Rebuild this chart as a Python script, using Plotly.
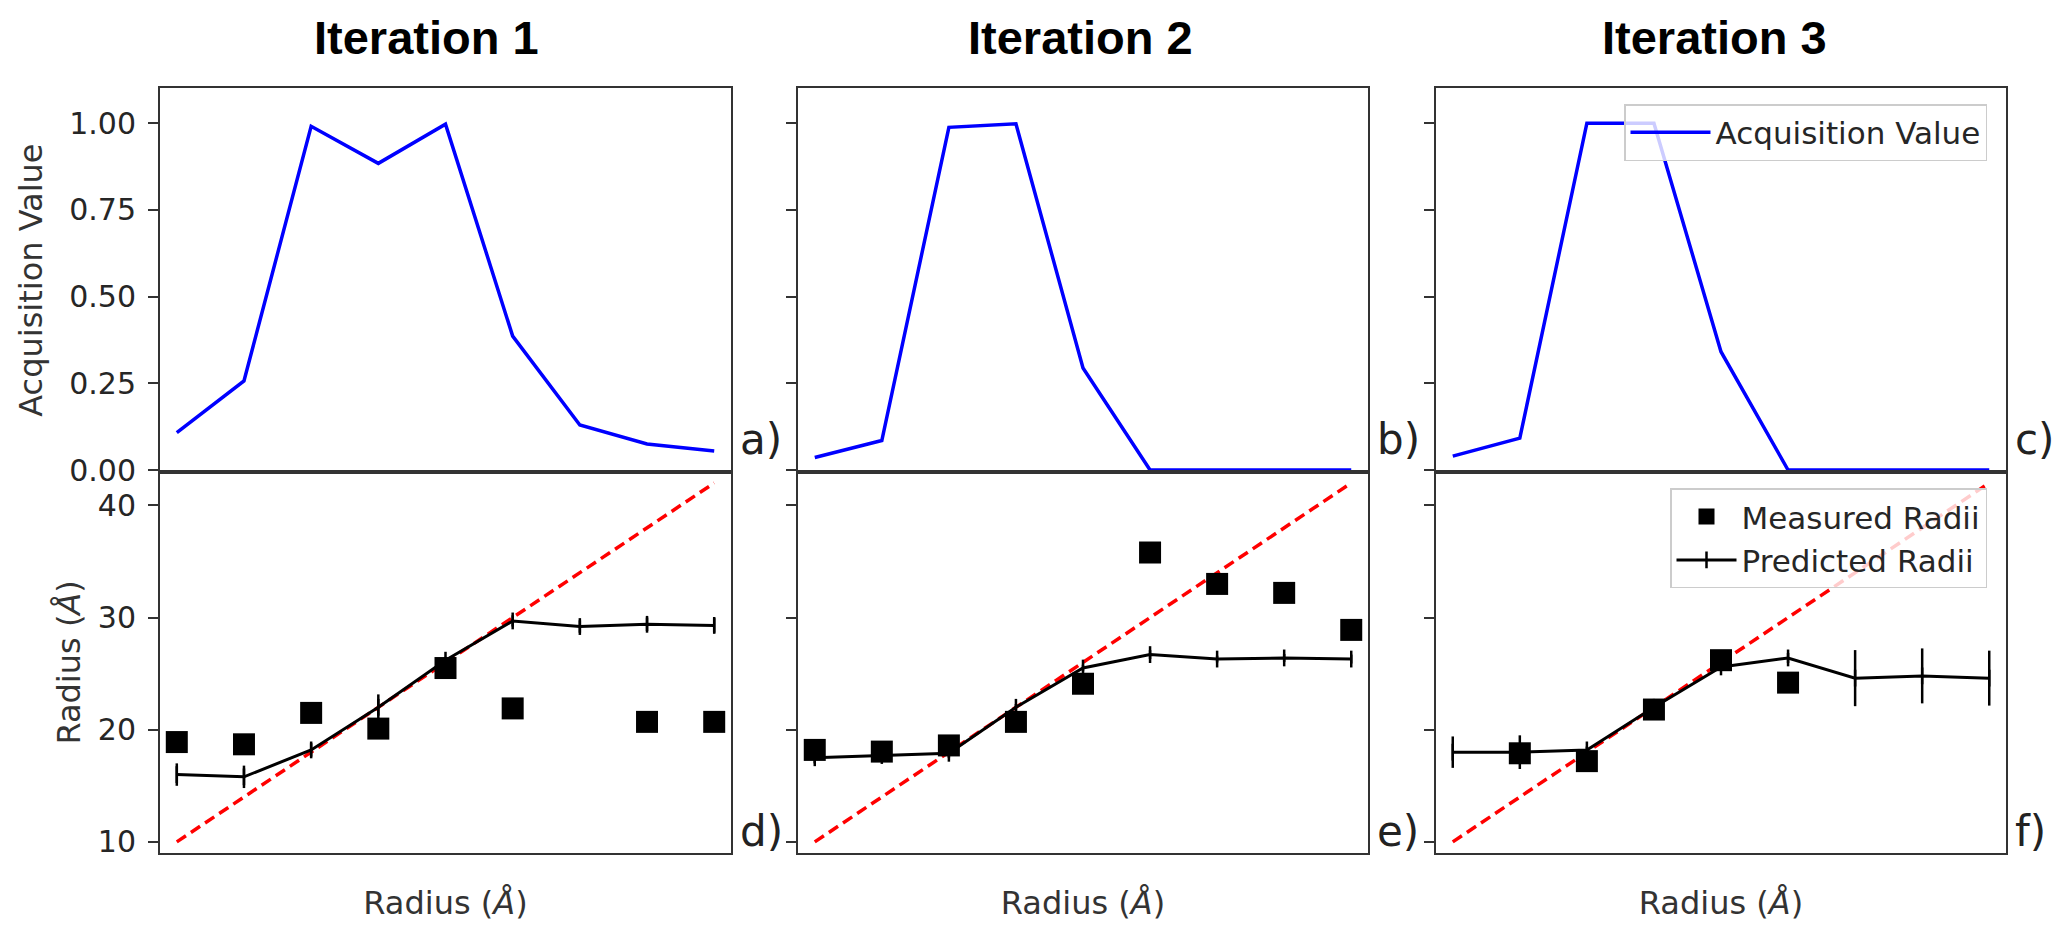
import plotly.graph_objects as go

# ---------------- data ----------------
radii = [10, 14, 18, 22, 26, 30, 34, 38, 42]
ideal = [10, 14, 18, 22, 26, 30, 34, 38, 42]

acq1 = [0.108, 0.257, 0.991, 0.884, 0.997, 0.386, 0.130, 0.075, 0.055]
acq2 = [0.036, 0.085, 0.988, 0.998, 0.294, 0.0, 0.0, 0.0, 0.0]
acq3 = [0.040, 0.092, 1.0, 1.0, 0.341, 0.0, 0.0, 0.0, 0.0]

meas1 = [18.9, 18.7, 21.5, 20.1, 25.5, 21.9, None, 20.7, 20.7]
meas2 = [18.2, 18.05, 18.6, 20.7, 24.1, 35.8, 33.0, 32.2, 28.9]
meas3 = [None, 17.9, 17.2, 21.8, 26.2, 24.2, None, None, None]

pred1 = [16.0, 15.8, 18.2, 22.0, 26.2, 29.7, 29.2, 29.4, 29.3]
err1 = [1.0, 1.0, 0.6, 1.15, 0.3, 0.5, 0.55, 0.6, 0.65]
pred2 = [17.5, 17.7, 17.9, 22.0, 25.5, 26.7, 26.3, 26.4, 26.3]
err2 = [0.5, 0.5, 0.4, 0.3, 0.3, 0.4, 0.3, 0.35, 0.4]
pred3 = [18.0, 18.0, 18.2, 22.0, 25.6, 26.4, 24.6, 24.8, 24.6]
err3 = [1.4, 1.5, 0.3, 0.3, 0.3, 0.45, 2.5, 2.45, 2.45]

titles = ["Iteration 1", "Iteration 2", "Iteration 3"]
top_labels = ["a)", "b)", "c)"]
bottom_labels = ["d)", "e)", "f)"]
acq_tickvals = [0.0, 0.25, 0.5, 0.75, 1.0]
rad_tickvals = [10, 20, 30, 40]

# ---------------- layout geometry (pixels) ----------------
W, H = 2062, 932
cols_px = [(160, 731), (798, 1368), (1436, 2006)]
top_px = (90, 480)
bot_px = (480, 868)
title_x = [426, 1080, 1714]

def px(x):
    return x / W

def py(y):
    return 1 - y / H

TXT = "#262626"
LINE = "#333333"
FONT = "DejaVu Sans"

fig = go.Figure()
acqs = [acq1, acq2, acq3]
meas = [meas1, meas2, meas3]
preds = [pred1, pred2, pred3]
errs = [err1, err2, err3]

for c in range(3):
    it = c + 1
    ib = c + 4
    # top: acquisition
    fig.add_trace(go.Scatter(
        x=radii, y=acqs[c], mode="lines",
        line=dict(color="#0000ff", width=3.5),
        name="Acquisition Value", showlegend=(c == 2), legend="legend",
        xaxis=f"x{it}", yaxis=f"y{it}"))
    # bottom: ideal dashed line
    fig.add_trace(go.Scatter(
        x=radii, y=ideal, mode="lines",
        line=dict(color="#ff0000", width=3.5, dash="11px,6px"),
        showlegend=False, xaxis=f"x{ib}", yaxis=f"y{ib}"))
    # predicted
    fig.add_trace(go.Scatter(
        x=radii, y=preds[c], mode="lines+markers",
        line=dict(color="black", width=3),
        marker=dict(symbol="line-ns-open", size=12,
                    line=dict(color="black", width=2.5), color="black"),
        error_y=dict(type="data", array=errs[c], color="black",
                     thickness=2.5, width=0),
        name="Predicted Radii", showlegend=(c == 2), legend="legend2",
        legendrank=2, xaxis=f"x{ib}", yaxis=f"y{ib}"))
    # measured
    fig.add_trace(go.Scatter(
        x=radii, y=meas[c], mode="markers",
        marker=dict(symbol="square", size=22, color="black"),
        name="Measured Radii", showlegend=(c == 2), legend="legend2",
        legendrank=1, xaxis=f"x{ib}", yaxis=f"y{ib}"))

layout = dict(
    width=W, height=H,
    margin=dict(l=0, r=0, t=0, b=0),
    paper_bgcolor="white", plot_bgcolor="white",
    font=dict(family=FONT, size=30, color=TXT),
    showlegend=True,
    legend=dict(x=px(1987), xanchor="right", y=py(106), yanchor="top",
                bgcolor="rgba(255,255,255,0.8)", bordercolor="#cccccc",
                borderwidth=1.5, font=dict(family=FONT, size=31, color=TXT),
                itemwidth=80),
    legend2=dict(x=px(1987), xanchor="right", y=py(497), yanchor="top",
                 bgcolor="rgba(255,255,255,0.8)", bordercolor="#cccccc",
                 borderwidth=1.5, font=dict(family=FONT, size=31, color=TXT),
                 itemwidth=60, traceorder="normal"),
)

axis_common = dict(showline=True, linecolor=LINE, linewidth=2, mirror=True,
                   showgrid=False, zeroline=False)

for c in range(3):
    it = c + 1
    ib = c + 4
    x0, x1 = cols_px[c]
    dom_x = [px(x0), px(x1)]
    layout[f"xaxis{it}"] = dict(domain=dom_x, range=[9, 43], anchor=f"y{it}",
                                showticklabels=False, ticks="", **axis_common)
    layout[f"xaxis{ib}"] = dict(domain=dom_x, range=[9, 43], anchor=f"y{ib}",
                                showticklabels=False, ticks="",
                                title=dict(text="Radius (<i>Å</i>)",
                                           font=dict(family=FONT, size=32, color="#333"),
                                           standoff=38),
                                **axis_common)
    layout[f"yaxis{it}"] = dict(domain=[py(top_px[1]), py(top_px[0])], range=[-0.005, 1.1],
                                anchor=f"x{it}", tickvals=acq_tickvals,
                                tickformat=".2f", ticks="outside", ticklen=10,
                                tickwidth=2, tickcolor=LINE,
                                showticklabels=(c == 0), ticklabelstandoff=6,
                                **axis_common)
    layout[f"yaxis{ib}"] = dict(domain=[py(bot_px[1]), py(bot_px[0])], range=[9, 43],
                                anchor=f"x{ib}", tickvals=rad_tickvals,
                                ticks="outside", ticklen=10,
                                tickwidth=2, tickcolor=LINE,
                                showticklabels=(c == 0), ticklabelstandoff=6,
                                **axis_common)

layout["yaxis1"]["title"] = dict(text="Acquisition Value",
                                 font=dict(family=FONT, size=32, color="#333"),
                                 standoff=17)
layout["yaxis4"]["title"] = dict(text="Radius (<i>Å</i>)",
                                 font=dict(family=FONT, size=32, color="#333"),
                                 standoff=8)

annotations = []
for c in range(3):
    annotations.append(dict(text=f"<b>{titles[c]}</b>", xref="paper", yref="paper",
                            x=px(title_x[c]), y=py(38), xanchor="center", yanchor="middle",
                            showarrow=False,
                            font=dict(family="Liberation Sans", size=47, color="black")))
    rx = cols_px[c][1] + 7
    annotations.append(dict(text=top_labels[c], xref="paper", yref="paper",
                            x=px(rx), y=py(447), xanchor="left", yanchor="middle",
                            showarrow=False,
                            font=dict(family=FONT, size=42, color="#222")))
    annotations.append(dict(text=bottom_labels[c], xref="paper", yref="paper",
                            x=px(rx), y=py(846), xanchor="left", yanchor="middle",
                            showarrow=False,
                            font=dict(family=FONT, size=42, color="#222")))
layout["annotations"] = annotations

fig.update_layout(**layout)
fig.write_html("out.html")
